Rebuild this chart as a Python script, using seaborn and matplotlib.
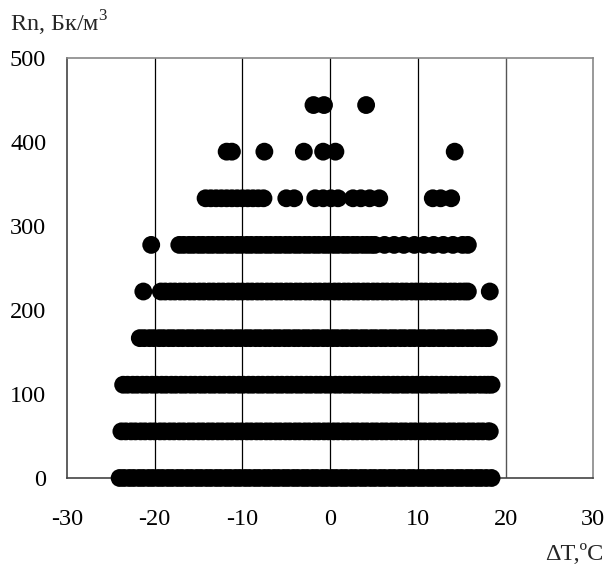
import matplotlib
matplotlib.use("Agg")
import matplotlib.pyplot as plt
import seaborn as sns
import pandas as pd

# Rn levels (Bq/m^3) and the observed ΔT values at each level
rn_levels = [0.0, 55.5, 111.0, 166.5, 222.0, 277.5, 333.0, 388.5, 444.0]

dt_0 = [-24.0, -23.5, -22.9, -22.4, -21.8, -21.3, -20.7, -20.2, -19.6, -19.1, -18.5, -18.0,
        -17.4, -16.9, -16.3, -15.8, -15.2, -14.7, -14.1, -13.6, -13.0, -12.5, -11.9, -11.4,
        -10.8, -10.3, -9.7, -9.2, -8.6, -8.1, -7.5, -7.0, -6.4, -5.9, -5.3, -4.8, -4.2, -3.7,
        -3.1, -2.6, -2.0, -1.5, -0.9, -0.4, 0.2, 0.7, 1.3, 1.8, 2.4, 2.9, 3.5, 4.0, 4.6, 5.1,
        5.7, 6.2, 6.8, 7.3, 7.9, 8.4, 9.0, 9.5, 10.1, 10.6, 11.2, 11.7, 12.3, 12.8, 13.4, 13.9,
        14.5, 15.0, 15.6, 16.1, 16.7, 17.2, 17.8, 18.4]
dt_55 = [-23.8, -23.3, -22.7, -22.2, -21.6, -21.1, -20.5, -20.0, -19.4, -18.9, -18.3, -17.8,
         -17.2, -16.7, -16.1, -15.6, -15.0, -14.5, -13.9, -13.4, -12.8, -12.3, -11.7, -11.2,
         -10.6, -10.1, -9.5, -9.0, -8.4, -7.9, -7.3, -6.8, -6.2, -5.7, -5.1, -4.6, -4.0, -3.5,
         -2.9, -2.4, -1.8, -1.3, -0.7, -0.2, 0.4, 0.9, 1.5, 2.0, 2.6, 3.1, 3.7, 4.2, 4.8, 5.3,
         5.9, 6.4, 7.0, 7.5, 8.1, 8.6, 9.2, 9.7, 10.3, 10.8, 11.4, 11.9, 12.5, 13.0, 13.6, 14.1,
         14.7, 15.2, 15.8, 16.3, 16.9, 17.4, 18.0, 18.2]
dt_111 = [-23.6, -23.1, -22.5, -22.0, -21.4, -20.9, -20.3, -19.8, -19.2, -18.7, -18.1, -17.6,
          -17.0, -16.5, -15.9, -15.4, -14.8, -14.3, -13.7, -13.2, -12.6, -12.1, -11.5, -11.0,
          -10.4, -9.9, -9.3, -8.8, -8.2, -7.7, -7.1, -6.6, -6.0, -5.5, -4.9, -4.4, -3.8, -3.3,
          -2.7, -2.2, -1.6, -1.1, -0.5, 0.0, 0.6, 1.1, 1.7, 2.2, 2.8, 3.3, 3.9, 4.4, 5.0, 5.5,
          6.1, 6.6, 7.2, 7.7, 8.3, 8.8, 9.4, 9.9, 10.5, 11.0, 11.6, 12.1, 12.7, 13.2, 13.8, 14.3,
          14.9, 15.4, 16.0, 16.5, 17.1, 17.6, 18.0, 18.4]
dt_166 = [-21.7, -21.2, -20.6, -20.1, -19.5, -19.0, -18.4, -17.9, -17.3, -16.8, -16.2, -15.7,
          -15.1, -14.6, -14.0, -13.5, -12.9, -12.4, -11.8, -11.3, -10.7, -10.2, -9.6, -9.1,
          -8.5, -8.0, -7.4, -6.9, -6.3, -5.8, -5.2, -4.7, -4.1, -3.6, -3.0, -2.5, -1.9, -1.4,
          -0.8, -0.3, 0.3, 0.8, 1.4, 1.9, 2.5, 3.0, 3.6, 4.1, 4.7, 5.2, 5.8, 6.3, 6.9, 7.4,
          8.0, 8.5, 9.1, 9.6, 10.2, 10.7, 11.3, 11.8, 12.4, 12.9, 13.5, 14.0, 14.6, 15.1, 15.7,
          16.2, 16.8, 17.3, 17.8, 18.1]
dt_222 = [-21.3, -19.3, -18.8, -18.2, -17.7, -17.1, -16.6, -16.0, -15.5, -14.9, -14.4, -13.8,
          -13.3, -12.7, -12.2, -11.6, -11.1, -10.5, -10.0, -9.4, -8.9, -8.3, -7.8, -7.2, -6.7,
          -6.1, -5.6, -5.0, -4.5, -3.9, -3.4, -2.8, -2.3, -1.7, -1.2, -0.6, -0.1, 0.5, 1.0,
          1.6, 2.1, 2.7, 3.2, 3.8, 4.3, 4.9, 5.4, 6.0, 6.5, 7.1, 7.6, 8.2, 8.7, 9.3, 9.8,
          10.4, 10.9, 11.5, 12.0, 12.6, 13.1, 13.7, 14.2, 14.8, 15.3, 15.7, 18.2]
dt_277 = [-20.4, -17.2, -16.7, -16.1, -15.6, -15.0, -14.5, -13.9, -13.4, -12.8, -12.3, -11.7,
          -11.2, -10.6, -10.1, -9.5, -9.0, -8.4, -7.9, -7.3, -6.8, -6.2, -5.7, -5.1, -4.6,
          -4.0, -3.5, -2.9, -2.4, -1.8, -1.3, -0.7, -0.2, 0.4, 0.9, 1.5, 2.0, 2.6, 3.1, 3.7,
          4.2, 4.7, 5.1, 6.2, 7.3, 8.4, 9.6, 10.7, 11.8, 12.9, 14.0, 15.1, 15.7]
dt_333 = [-14.2, -13.6, -13.0, -12.4, -11.8, -11.2, -10.6, -10.0, -9.4, -8.8, -8.2, -7.6,
          -5.0, -4.1, -1.7, -0.8, 0.1, 0.9, 2.6, 3.5, 4.5, 5.6, 11.7, 12.6, 13.8]
dt_388 = [-11.8, -11.2, -7.5, -3.0, -0.8, 0.6, 14.2]
dt_444 = [-1.9, -0.7, 4.1]

x_ticks = [-30, -20, -10, 0, 10, 20, 30]
y_ticks = [0, 100, 200, 300, 400, 500]
y_label = "Rn, Бк/м$^3$"
x_label = "ΔT,ºC"

groups = [dt_0, dt_55, dt_111, dt_166, dt_222, dt_277, dt_333, dt_388, dt_444]
rows = []
for lvl, vals in zip(rn_levels, groups):
    for v in vals:
        rows.append((v, lvl))
df = pd.DataFrame(rows, columns=["dT", "Rn"])

sns.set_theme(style="white")
plt.rcParams["font.family"] = ["Liberation Serif", "DejaVu Serif"]
plt.rcParams["mathtext.fontset"] = "custom"
plt.rcParams["mathtext.rm"] = "Liberation Serif"

fig = plt.figure(figsize=(6.07, 5.67), dpi=100)
ax = fig.add_axes([0.1104, 0.157, 0.8670, 0.7407])

for xv in [-20, -10, 0, 10]:
    ax.axvline(xv, color="black", lw=0.9, zorder=1)
ax.axvline(20, color="#555555", lw=1.0, zorder=1)

sns.scatterplot(data=df, x="dT", y="Rn", color="black", s=165, linewidth=0,
                edgecolor="none", ax=ax, zorder=3, clip_on=False, legend=False)

ax.set_xlim(-30, 30)
ax.set_ylim(0, 500)
ax.set_xticks(x_ticks)
ax.set_yticks(y_ticks)
ax.set_xticklabels([str(t) for t in x_ticks])
ax.set_yticklabels([str(t) for t in y_ticks])
ax.set_xlabel("")
ax.set_ylabel("")
ax.tick_params(axis="both", direction="out", length=6, width=1, color="#333333",
               labelsize=17.5, labelcolor="black")
ax.tick_params(axis="y", pad=9)
ax.tick_params(axis="x", pad=16)

for side in ["left", "bottom"]:
    ax.spines[side].set_color("#444444")
    ax.spines[side].set_linewidth(1.2)
for side in ["top", "right"]:
    ax.spines[side].set_color("#888888")
    ax.spines[side].set_linewidth(1.2)
    ax.spines[side].set_visible(True)

fig.text(10 / 607, 1 - 31 / 567, y_label, fontsize=17.5, ha="left", va="baseline")
fig.text(603 / 607, 1 - 560 / 567, x_label, fontsize=17.5, ha="right", va="baseline")

fig.savefig("out.png", dpi=100)
